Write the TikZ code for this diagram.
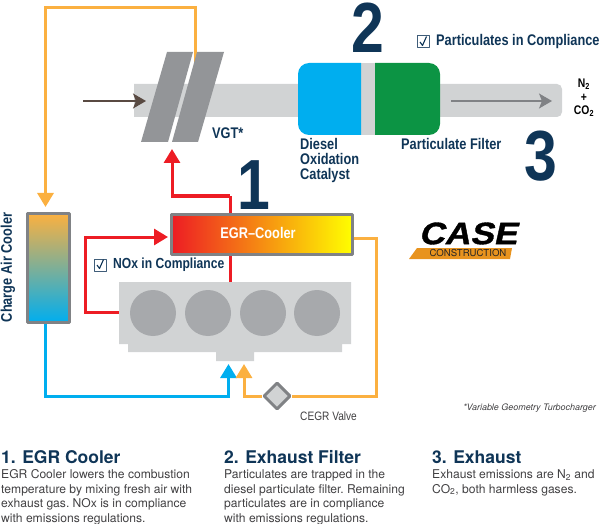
\documentclass[tikz,border=0pt]{standalone}
\usepackage{fontspec}
\setmainfont{TeX Gyre Heros}
\newfontfamily\condfont[FakeStretch=0.83]{Liberation Sans}
\newfontfamily\widefont[FakeStretch=1.14,FakeSlant=0.22,FakeBold=1.2]{Liberation Sans}
\usetikzlibrary{arrows.meta,shapes.geometric}
\definecolor{navy}{HTML}{0F3557}
\definecolor{pipegray}{HTML}{D1D3D4}
\definecolor{steelgray}{HTML}{939598}
\definecolor{framegray}{HTML}{808285}
\definecolor{boregray}{HTML}{A7A9AC}
\definecolor{bodygray}{HTML}{414042}
\definecolor{airorange}{HTML}{FBB040}
\definecolor{airblue}{HTML}{00AEEF}
\definecolor{egrred}{HTML}{ED1C24}
\definecolor{filtergreen}{HTML}{0C9444}
\definecolor{logoorange}{HTML}{E8931E}
\definecolor{arrowbrown}{HTML}{594A42}
\tikzset{
	flow/.style={line width=3pt, line cap=butt, line join=miter},
	bigtip/.style={-{Triangle[width=16pt,length=14pt]}},
	thintip/.style={line width=1.2pt, -{Stealth[width=15pt,length=13pt,inset=3pt]}},
	cooler/.style={draw=framegray, line width=3pt, inner sep=0pt},
	numeral/.style={navy, inner sep=0pt, font=\condfont\bfseries\fontsize{71}{71}\selectfont},
	caption/.style={navy, inner sep=0pt, anchor=west, align=left, font=\condfont\bfseries\fontsize{15.4}{15}\selectfont},
	headline/.style={navy, inner sep=0pt, anchor=west, font=\bfseries\fontsize{17.5}{18}\selectfont},
	bodytext/.style={bodygray, inner sep=0pt, anchor=north west, align=left, font=\frenchspacing\fontsize{12.1}{14.5}\selectfont},
	tickbox/.style={draw=navy!80!white, line width=1pt, minimum size=12pt, inner sep=0pt}
}
\begin{document}
\begin{tikzpicture}[x=1pt, y=-1pt, line join=round, >=stealth]
	\useasboundingbox (0,0) rectangle (600,524);
	\path
	(195,63) coordinate (A)
	(195,8) coordinate (B)
	(45.5,8) coordinate (C)
	(230,196) coordinate (D)
	(172,196) coordinate (E)
	(172,149) coordinate (F)
	(85,312) coordinate (G)
	(85,237) coordinate (H)
	(45.5,396) coordinate (J)
	(228.5,396) coordinate (K)
	(228.5,364) coordinate (L)
	(376,238) coordinate (M)
	(376,396) coordinate (P)
	(244,396) coordinate (Q)
	(244,364) coordinate (R)
	(230,282) coordinate (S)
	(119,312) coordinate (T)
	(168,237) coordinate (U);
	% exhaust pipe and after-treatment blocks
	\fill[pipegray] (134,84) [rounded corners=5pt] -- (562,84) -- (562,117) [sharp corners] -- (134,117) -- cycle;
	\fill[pipegray] (361,63) rectangle (375,135);
	\fill[airblue] (361,63) [rounded corners=11pt] -- (298,63) -- (298,135) [sharp corners] -- (361,135) -- cycle;
	\fill[filtergreen] (375,63) [rounded corners=11pt] -- (440,63) -- (440,135) [sharp corners] -- (375,135) -- cycle;
	\coordinate (inA) at (83,101);
	\coordinate (inB) at (146,101);
	\coordinate (outA) at (451,101);
	\coordinate (outB) at (552,101);
	\draw[thintip, arrowbrown] (inA) -- (inB);
	\draw[thintip, framegray] (outA) -- (outB);
	% charge air and turbo lines
	\draw[flow, airorange, bigtip] (A) -- (B) -- (C) -- (45.5,207);
	\draw[flow, egrred, bigtip] (D) -- (E) -- (F);
	\fill[steelgray] (167,52) -- (193,52) -- (168,142) -- (141,142) -- cycle;
	\fill[steelgray] (197,52) -- (224,52) -- (198,142) -- (172,142) -- cycle;
	\node[caption] (vgt) at (212,133) {VGT*};
	% numerals
	\node[numeral] (one) at (254,185) {1};
	\node[numeral] (two) at (368,27.5) {2};
	\node[numeral] (three) at (541,156) {3};
	% engine block
	\fill[pipegray] (119,282) -- (351,282) -- (351,344) -- (342,344) -- (342,352) -- (254,352) -- (254,361) -- (216,361) -- (216,352) -- (128,352) -- (128,344) -- (119,344) -- cycle;
	\foreach \i in {153,208,263,317} \fill[boregray] (\i,313) circle (23);
	% coolers
	\node[cooler, minimum width=42pt, minimum height=109pt, top color=airorange, middle color=airorange!45!airblue!80!black, bottom color=airblue] (cac) at (48.5,268) {};
	\node[cooler, minimum width=181pt, minimum height=40pt, left color=egrred, middle color=orange!85!red, right color=yellow] (egr) at (262,234.5) {};
	\node[white, inner sep=0pt, font=\condfont\bfseries\fontsize{15.4}{15}\selectfont] (egrtext) at (258,233) {EGR–Cooler};
	\node[caption, anchor=center, rotate=90] (cactext) at (8,267.5) {Charge Air Cooler};
	% exhaust gas and return lines
	\draw[flow, egrred] (S) -- (egr.south -| S);
	\draw[flow, egrred] (egr.north -| D) -- (D);
	\draw[flow, egrred, bigtip] (T) -- (G) -- (H) -- (U);
	\draw[flow, airblue, bigtip] (cac.south -| J) -- (J) -- (K) -- (L);
	\node[draw=framegray, fill=pipegray, line width=3pt, diamond, minimum size=27pt, inner sep=0pt] (valve) at (277,396) {};
	\draw[flow, airorange] (egr.east |- M) -- (M) -- (P) -- (valve.east);
	\draw[flow, airorange, bigtip] (valve.west) -- (Q) -- (R);
	% check boxes
	\foreach \i/\j/\k in {nox/100/265, part/423/42} {
		\node[tickbox] (\i) at (\j,\k) {};
		\draw[navy, line width=1.1pt] (\i.center) ++(-3,0) -- ++(2.5,3.5) -- ++(4,-9);
	}
	\node[caption, font=\condfont\bfseries\fontsize{14.6}{15}\selectfont] (noxtext) at (113,265) {NOx in Compliance};
	\node[caption] (parttext) at (436,42) {Particulates in Compliance};
	% labels
	\node[caption, anchor=north west] (doctext) at (300,138) {Diesel\\Oxidation\\Catalyst};
	\node[caption] (dpftext) at (401,144) {Particulate Filter};
	\node[inner sep=0pt, align=center, font=\condfont\bfseries\fontsize{12.5}{13.5}\selectfont] (gas) at (584,98) {N\textsubscript{2}\\+\\CO\textsubscript{2}};
	\node[bodygray, inner sep=0pt, anchor=west, font=\condfont\fontsize{12.2}{14}\selectfont] (cegr) at (300,416) {CEGR Valve};
	\node[bodygray, inner sep=0pt, anchor=east, font=\itshape\fontsize{8.95}{10}\selectfont] (vgtnote) at (596,408) {*Variable Geometry Turbocharger};
	% logo
	\fill[logoorange] (417,248) -- (512,248) -- (510,259) -- (409,259) -- cycle;
	\node[inner sep=0pt, font=\widefont\bfseries\fontsize{31}{31}\selectfont] (logo) at (468,233.5) {CASE};
	\node[black!85, inner sep=0pt, font=\fontsize{9.6}{10}\selectfont] (logosub) at (468,253.5) {CONSTRUCTION};
	% bottom columns
	\node[headline] (headA) at (1,457.5) {1. EGR Cooler};
	\node[headline] (headB) at (224,457.5) {2. Exhaust Filter};
	\node[headline] (headC) at (432,457.5) {3. Exhaust};
	\node[bodytext] (textA) at (1,469.5) {EGR Cooler lowers the combustion\\temperature by mixing fresh air with\\exhaust gas. NOx is in compliance\\with emissions regulations.};
	\node[bodytext] (textB) at (224,469.5) {Particulates are trapped in the\\diesel particulate filter. Remaining\\particulates are in compliance\\with emissions regulations.};
	\node[bodytext] (textC) at (432,469.5) {Exhaust emissions are N\textsubscript{2} and\\CO\textsubscript{2}, both harmless gases.};
\end{tikzpicture}
\end{document}
